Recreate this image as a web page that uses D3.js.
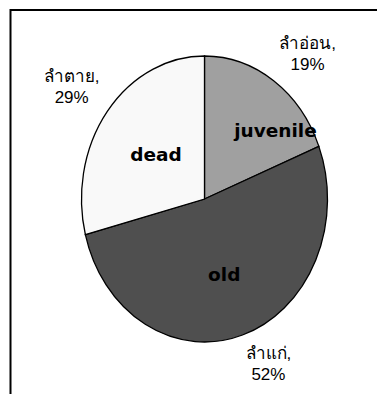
<!DOCTYPE html>
<html>
<head>
<meta charset="utf-8">
<script src="https://cdn.jsdelivr.net/npm/d3@7"></script>
<style>
  body { margin: 0; background: #fff; }
  svg { display: block; }
</style>
</head>
<body>
<svg id="chart"></svg>
<script>
// Canvas size
const width = 377;
const height = 394;

// Data
const categories = ["juvenile", "old", "dead"];
const thaiNames = ["ลำอ่อน", "ลำแก่", "ลำตาย"];
const percents = [19, 52, 29];
const sliceColors = ["#a0a0a0", "#4f4f4f", "#f9f9f9"];

// Pie is drawn as an ellipse
const cx = 204.5, cy = 199;
const rx = 123, ry = 143;

const svg = d3.select("#chart")
    .attr("width", width)
    .attr("height", height);

// Frame (only top and left are visible in the picture)
svg.append("rect")
    .attr("x", 10.5)
    .attr("y", 10)
    .attr("width", width + 20)
    .attr("height", height + 20)
    .attr("fill", "none")
    .attr("stroke", "#000")
    .attr("stroke-width", 2);

const pie = d3.pie()
    .sort(null)
    .value(function(d) { return d; });
const arcsData = pie(percents);

const arc = d3.arc()
    .innerRadius(0)
    .outerRadius(rx);

const color = d3.scaleOrdinal()
    .domain(categories)
    .range(sliceColors);

const gPie = svg.append("g")
    .attr("transform", `translate(${cx},${cy}) scale(1,${ry / rx})`);

gPie.selectAll("path")
    .data(arcsData)
    .enter()
    .append("path")
    .attr("d", arc)
    .attr("fill", function(d, i) { return color(categories[i]); })
    .attr("stroke", "#000")
    .attr("stroke-width", 1.3)
    .attr("vector-effect", "non-scaling-stroke");

// point on the ellipse at angle a, k times the radius
function ellipsePoint(a, k) {
    return [cx + rx * k * Math.sin(a), cy - ry * k * Math.cos(a)];
}
function midAngle(d) { return (d.startAngle + d.endAngle) / 2; }

// Inner (English) labels
const innerShift = [[35, -8], [0, 4], [2, 0]];
svg.selectAll(".inner")
    .data(arcsData)
    .enter()
    .append("text")
    .attr("class", "inner")
    .attr("x", function(d, i) { return ellipsePoint(midAngle(d), 0.52)[0] + innerShift[i][0]; })
    .attr("y", function(d, i) { return ellipsePoint(midAngle(d), 0.52)[1] + innerShift[i][1]; })
    .attr("dy", "0.4em")
    .attr("text-anchor", "middle")
    .style("font-family", "'DejaVu Sans', Verdana, sans-serif")
    .style("font-weight", "bold")
    .style("font-size", "18.5px")
    .style("fill", "#000")
    .text(function(d, i) { return categories[i]; });

// Outer (Thai) labels, the nearest box corner touches the pie
arcsData.forEach(function(d, i) {
    const a = midAngle(d);
    const p = ellipsePoint(a, 1.08);
    const g = svg.append("g");
    const t = g.append("text")
        .attr("text-anchor", "middle")
        .style("font-family", "'Liberation Sans', Arial, sans-serif")
        .style("font-size", "17px")
        .style("fill", "#000");
    t.append("tspan").attr("x", 0).attr("y", 0).text(thaiNames[i] + ",");
    t.append("tspan").attr("x", 0).attr("y", 21).text(percents[i] + "%");
    const b = t.node().getBBox();
    const bx = Math.sin(a) >= 0 ? p[0] - b.x : p[0] - (b.x + b.width);
    const by = Math.cos(a) >= 0 ? p[1] - (b.y + b.height) + 3 : p[1] - b.y - 2;
    g.attr("transform", `translate(${bx},${by})`);
});
</script>
</body>
</html>
